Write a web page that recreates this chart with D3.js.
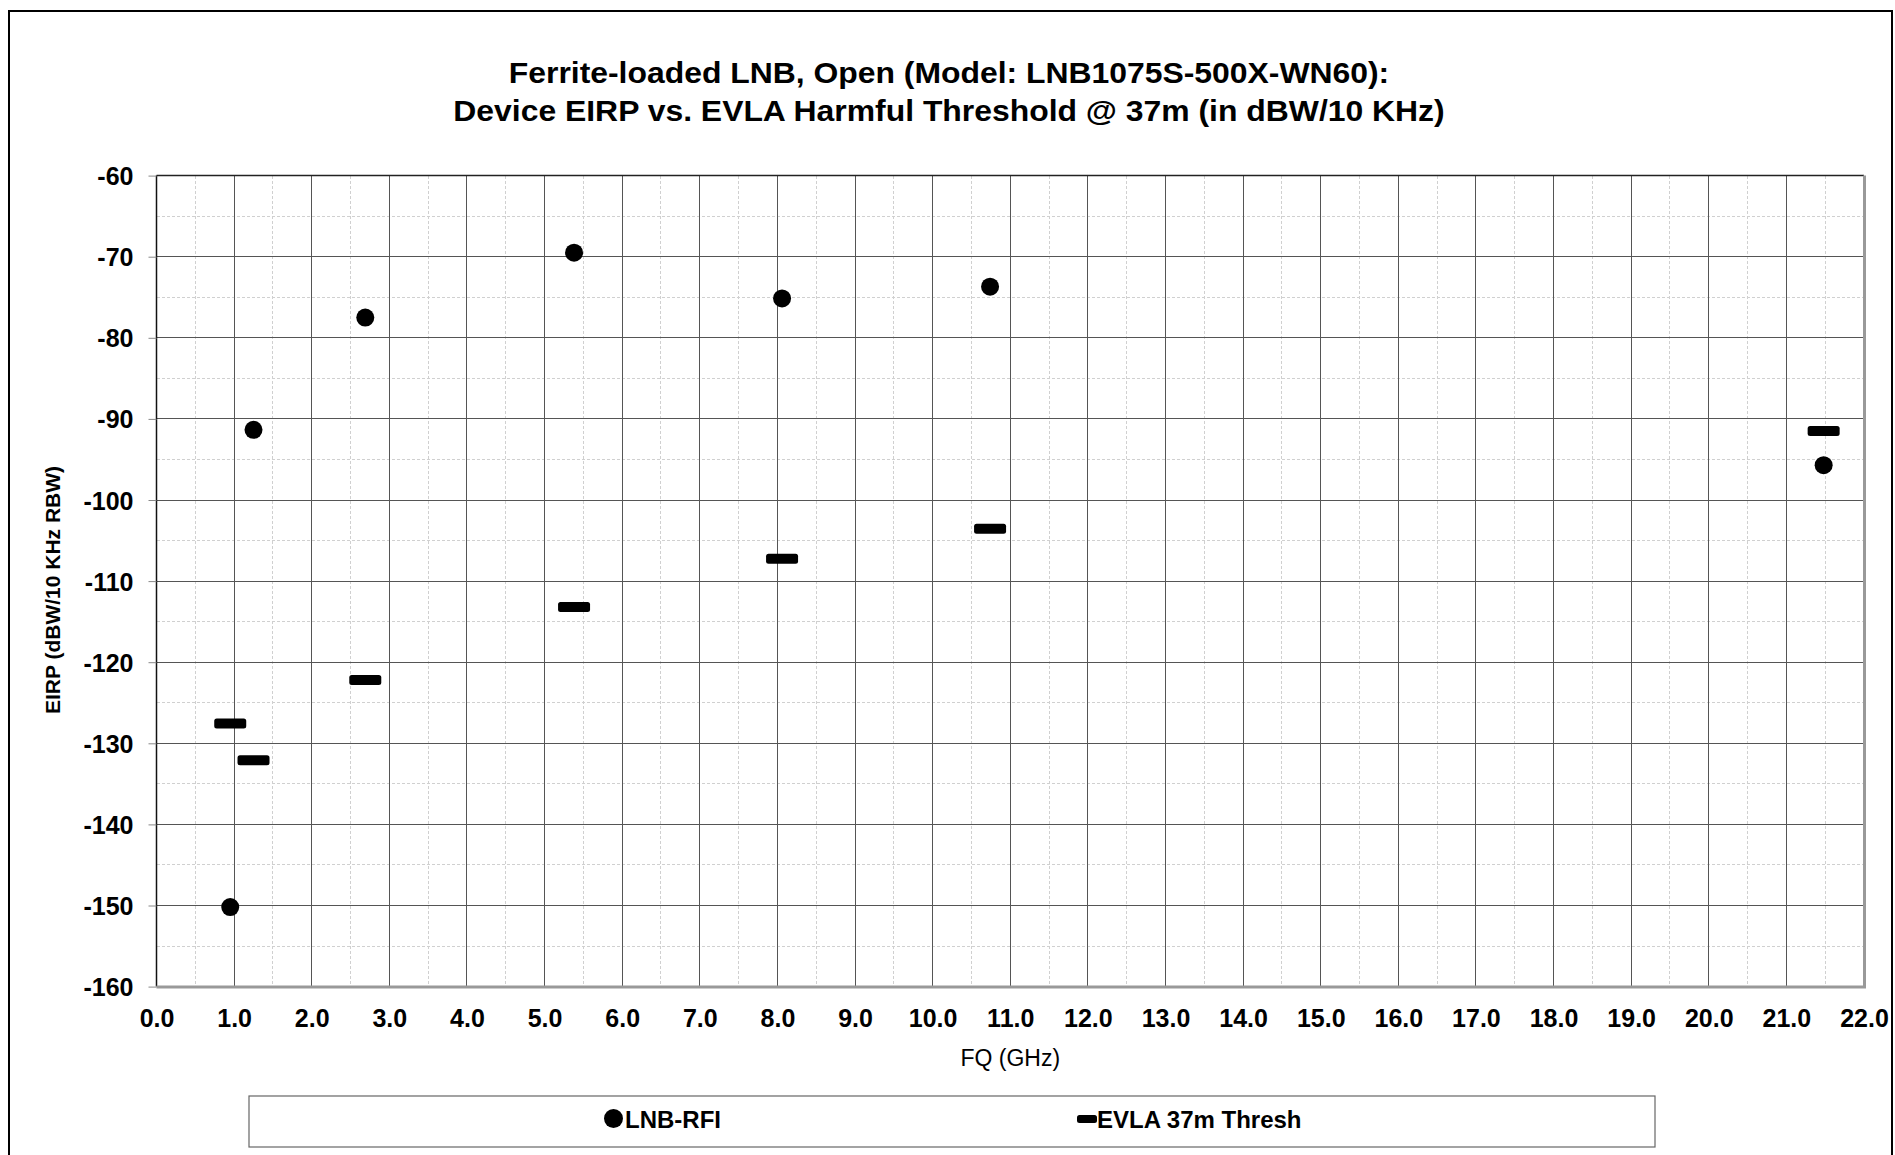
<!DOCTYPE html>
<html>
<head>
<meta charset="utf-8" />
<title>Ferrite-loaded LNB EIRP</title>
<script src="https://d3js.org/d3.v7.min.js"></script>
<style>
    body { margin: 0; background: #fff; }
    svg { display: block; font-family: "Liberation Sans", Arial, sans-serif; }
    .tick text { font-weight: bold; fill: #000; }
</style>
</head>
<body>
<div id="chart"></div>
<script>
    // data
    var freqs = [0.95, 1.25, 2.69, 5.38, 8.06, 10.74, 21.48];
    var lnbRfi = [-150.2, -91.35, -77.5, -69.5, -75.15, -73.7, -95.7];
    var evlaThresh = [-127.55, -132.1, -122.2, -113.2, -107.25, -103.55, -91.5];
    var xTicks = d3.range(0, 22.5, 1);
    var yTicks = d3.range(-160, -59, 10);
    var titleLines = ["Ferrite-loaded LNB, Open (Model: LNB1075S-500X-WN60):",
                      "Device EIRP vs. EVLA Harmful Threshold @ 37m (in dBW/10 KHz)"];
    var seriesNames = ["LNB-RFI", "EVLA 37m Thresh"];

    var width = 1895, height = 1155;
    var pLeft = 156.5, pRight = 1864, pTop = 175.6, pBottom = 986.6;

    var x = d3.scaleLinear().domain([0, 22]).range([pLeft, pRight]);
    var y = d3.scaleLinear().domain([-160, -60]).range([pBottom, pTop]);

    var svg = d3.select("#chart").append("svg")
        .attr("width", width).attr("height", height);

    /* outer chart frame */
    svg.append("rect")
        .attr("x", 9).attr("y", 11)
        .attr("width", 1883).attr("height", 1170)
        .attr("fill", "none").attr("stroke", "#000").attr("stroke-width", 2);

    /* title */
    titleLines.forEach(function (t, i) {
        svg.append("text")
            .attr("transform", "translate(949," + (83 + i * 38) + ") scale(1.1,1)")
            .attr("text-anchor", "middle")
            .style("font-size", "29px").style("font-weight", "bold")
            .text(t);
    });

    /* minor grid, dashed */
    var minor = svg.append("g").attr("stroke", "#d0d0d0").attr("stroke-dasharray", "3,2")
        .attr("shape-rendering", "crispEdges");
    minor.selectAll("line.vx")
        .data(d3.range(0.5, 22, 1))
        .enter().append("line")
        .attr("x1", d => x(d)).attr("x2", d => x(d))
        .attr("y1", pTop).attr("y2", pBottom);
    minor.selectAll("line.hy")
        .data(d3.range(-155, -60, 10))
        .enter().append("line")
        .attr("x1", pLeft).attr("x2", pRight)
        .attr("y1", d => y(d)).attr("y2", d => y(d));

    /* major grid */
    var major = svg.append("g").attr("stroke", "#555").attr("shape-rendering", "crispEdges");
    major.selectAll("line.vx")
        .data(xTicks.slice(1, -1))
        .enter().append("line")
        .attr("x1", d => x(d)).attr("x2", d => x(d))
        .attr("y1", pTop).attr("y2", pBottom);
    major.selectAll("line.hy")
        .data(yTicks.slice(1, -1))
        .enter().append("line")
        .attr("x1", pLeft).attr("x2", pRight)
        .attr("y1", d => y(d)).attr("y2", d => y(d));

    /* plot frame: dark top/left, grey shadowed right/bottom */
    svg.append("line").attr("x1", pLeft).attr("x2", pRight).attr("y1", pTop).attr("y2", pTop)
        .attr("stroke", "#222").attr("stroke-width", 1.5);
    svg.append("line").attr("x1", pLeft).attr("x2", pLeft).attr("y1", pTop).attr("y2", pBottom)
        .attr("stroke", "#111").attr("stroke-width", 1.5);
    svg.append("line").attr("x1", pRight + 0.5).attr("x2", pRight + 0.5).attr("y1", pTop).attr("y2", pBottom + 1.5)
        .attr("stroke", "#999").attr("stroke-width", 3);
    svg.append("line").attr("x1", pLeft).attr("x2", pRight + 2).attr("y1", pBottom + 0.5).attr("y2", pBottom + 0.5)
        .attr("stroke", "#999").attr("stroke-width", 3);

    /* y axis (plain hyphen for the minus, as in the original) */
    var yAxis = svg.append("g")
        .attr("transform", "translate(" + pLeft + ",0)")
        .call(d3.axisLeft(y).tickValues(yTicks).tickSize(8).tickPadding(15).tickFormat(d => String(d)));
    yAxis.select(".domain").remove();
    yAxis.selectAll(".tick line").attr("stroke", "#888");
    yAxis.selectAll(".tick text").style("font-size", "25px").attr("dy", "0.36em");

    /* x axis */
    var xAxis = svg.append("g")
        .attr("transform", "translate(0," + pBottom + ")")
        .call(d3.axisBottom(x).tickValues(xTicks).tickSize(0).tickPadding(23).tickFormat(d3.format(".1f")));
    xAxis.select(".domain").remove();
    xAxis.selectAll(".tick text").style("font-size", "25px");

    /* axis titles */
    svg.append("text")
        .attr("x", (pLeft + pRight) / 2).attr("y", 1066)
        .attr("text-anchor", "middle")
        .style("font-size", "23px")
        .text("FQ (GHz)");
    svg.append("text")
        .attr("transform", "translate(60,590) rotate(-90)")
        .attr("text-anchor", "middle")
        .style("font-size", "21px").style("font-weight", "bold")
        .text("EIRP (dBW/10 KHz RBW)");

    /* series */
    svg.append("g").selectAll("rect")
        .data(freqs.map((f, i) => [f, evlaThresh[i]]))
        .enter().append("rect")
        .attr("x", d => x(d[0]) - 16).attr("y", d => y(d[1]) - 5)
        .attr("width", 32).attr("height", 10)
        .attr("rx", 2.5)
        .attr("fill", "#000");
    svg.append("g").selectAll("circle")
        .data(freqs.map((f, i) => [f, lnbRfi[i]]))
        .enter().append("circle")
        .attr("cx", d => x(d[0])).attr("cy", d => y(d[1]))
        .attr("r", 9)
        .attr("fill", "#000");

    /* legend */
    svg.append("rect")
        .attr("x", 249).attr("y", 1096)
        .attr("width", 1406).attr("height", 51)
        .attr("fill", "#fff").attr("stroke", "#666").attr("stroke-width", 1.2);
    svg.append("circle").attr("cx", 613.5).attr("cy", 1118.5).attr("r", 9.5).attr("fill", "#000");
    svg.append("text").attr("x", 625).attr("y", 1128)
        .style("font-size", "24px").style("font-weight", "bold")
        .text(seriesNames[0]);
    svg.append("rect").attr("x", 1077).attr("y", 1115).attr("width", 20).attr("height", 8)
        .attr("rx", 2.5).attr("fill", "#000");
    svg.append("text").attr("x", 1097).attr("y", 1128)
        .style("font-size", "24px").style("font-weight", "bold")
        .text(seriesNames[1]);
</script>
</body>
</html>
